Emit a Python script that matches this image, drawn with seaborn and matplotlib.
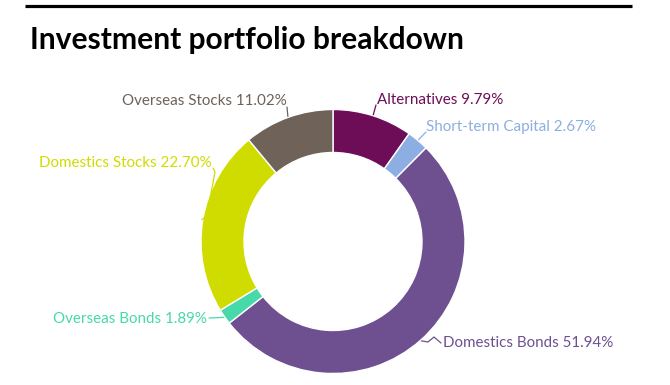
import numpy as np
import matplotlib
matplotlib.use("Agg")
import matplotlib.pyplot as plt
import seaborn as sns

# data, clockwise from 12 o'clock
labels = ["Alternatives", "Short-term Capital", "Domestics Bonds",
          "Overseas Bonds", "Domestics Stocks", "Overseas Stocks"]
shares = [9.79, 2.67, 51.94, 1.89, 22.70, 11.02]
colors = ["#6d0d58", "#8daee3", "#6e5091", "#48d9ab", "#d0dc00", "#6e6259"]

sns.set_theme(style="white")
plt.rcParams["font.family"] = ["Lato", "DejaVu Sans"]

fig = plt.figure(figsize=(6.7, 3.85), dpi=100)
ax = fig.add_axes([0, 0, 1, 1])

# pixel-like coords, y pointing down
cx, cy, R, W = 333, 241.5, 132, 43
wedges, _ = ax.pie(shares, colors=sns.color_palette(colors), startangle=-90,
                   counterclock=True, center=(cx, cy), radius=R,
                   wedgeprops=dict(width=W, edgecolor="white", linewidth=1))
ax.set_xlim(0, 670)
ax.set_ylim(385, 0)
ax.set_aspect("equal")
ax.axis("off")

# label placement: (text x, text y, ha, leader start)
place = {
    "Alternatives": (377, 100, "left", (376, 105)),
    "Short-term Capital": (426, 127, "left", (426, 132)),
    "Domestics Bonds": (443, 343, "left", (441, 343)),
    "Overseas Bonds": (207, 319, "right", (209, 318)),
    "Domestics Stocks": (212, 163, "right", (213, 168)),
    "Overseas Stocks": (287, 101, "right", (287, 107)),
}

for w, lab, val, col in zip(wedges, labels, shares, colors):
    tx, ty, ha, (lx, ly) = place[lab]
    ang = np.deg2rad((w.theta1 + w.theta2) / 2)
    ax_, ay_ = cx + (R + 1) * np.cos(ang), cy + (R + 1) * np.sin(ang)
    if lab == "Domestics Stocks":
        ax.plot([lx, lx + 2, ax_ + 5, ax_], [ly, ly + 4, ay_ - 4, ay_],
                color=col, lw=0.9)
    elif lab == "Domestics Bonds":
        ax.plot([lx, lx - 7, lx - 13, ax_], [ly, ly - 6, ly - 1, ay_],
                color=col, lw=0.9)
    else:
        ax.plot([lx, ax_], [ly, ay_], color=col, lw=0.9)
    ax.text(tx, ty, f"{lab} {val:.2f}%", color=col, ha=ha, va="center",
            fontsize=10.9)

# header
ax.plot([25, 632], [6, 6], color="black", lw=2.3, solid_capstyle="butt")
ax.text(30, 40, "Investment portfolio breakdown", fontsize=21.6,
        fontweight="bold", ha="left", va="center", color="black")

fig.savefig("out.png", dpi=100)
